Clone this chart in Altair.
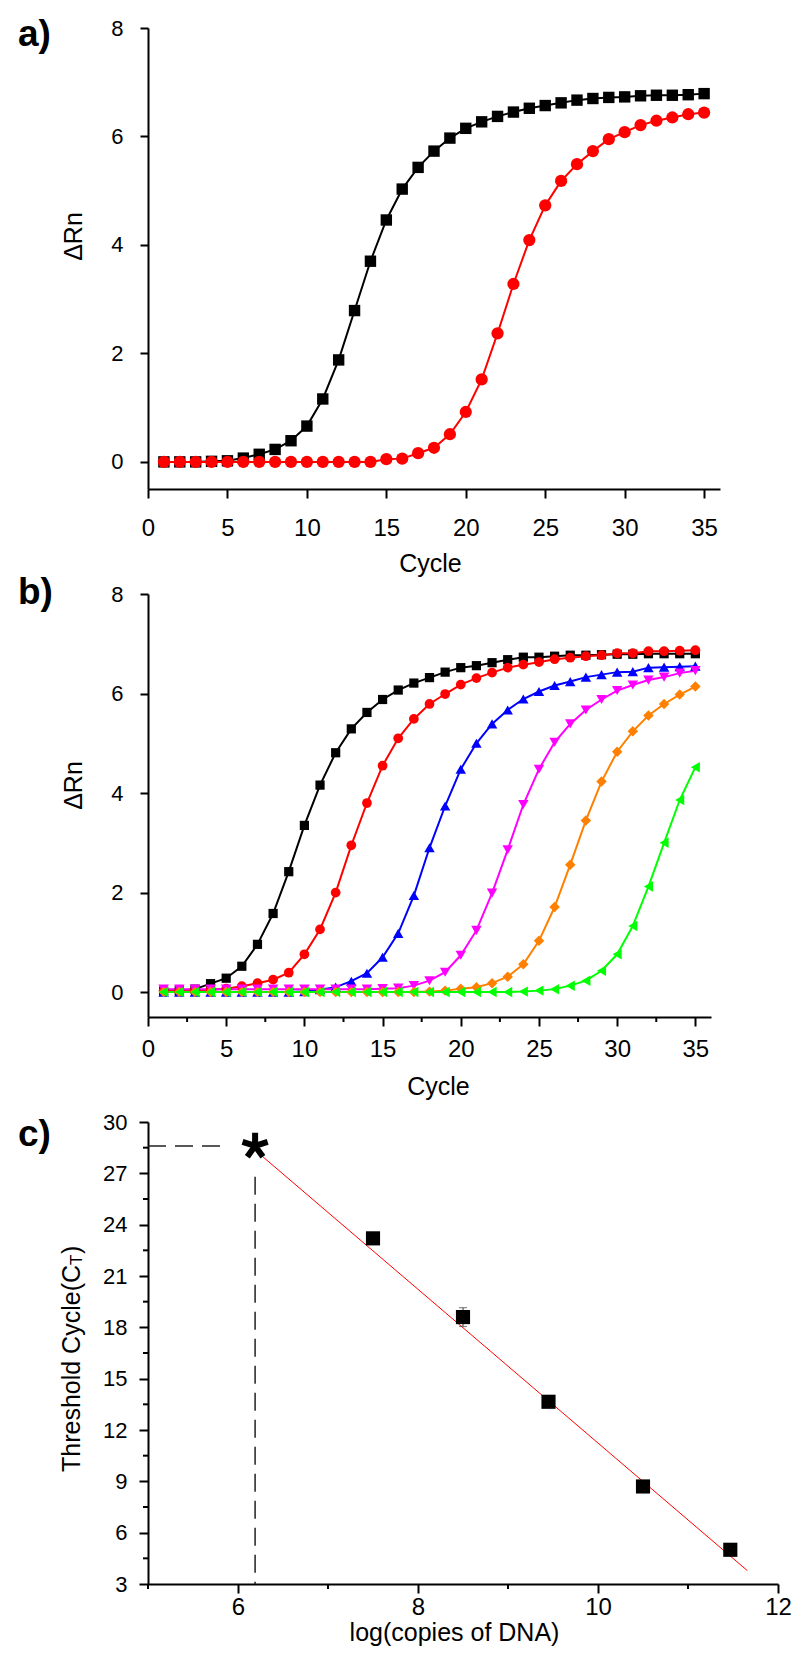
import altair as alt
import pandas as pd

FONT = "Liberation Sans"

# ---------------- data ----------------
cycles = list(range(1, 36))

# panel a
a_black = [0.0, 0.0, 0.0, 0.01, 0.02, 0.07, 0.14, 0.23, 0.39, 0.66,
           1.16, 1.88, 2.79, 3.70, 4.46, 5.03, 5.43, 5.73, 5.97, 6.15,
           6.27, 6.37, 6.45, 6.52, 6.57, 6.62, 6.67, 6.70, 6.72, 6.73,
           6.75, 6.76, 6.76, 6.77, 6.79]
a_red = [0.0, 0.0, 0.0, 0.0, 0.0, 0.0, 0.0, 0.0, 0.0, 0.0,
         0.0, 0.0, 0.0, 0.0, 0.05, 0.06, 0.16, 0.26, 0.51, 0.92,
         1.52, 2.37, 3.28, 4.09, 4.73, 5.18, 5.49, 5.73, 5.95, 6.08,
         6.21, 6.29, 6.35, 6.41, 6.44]

# panel b
b_black = [0.02, 0.03, 0.06, 0.17, 0.28, 0.52, 0.96, 1.58, 2.42, 3.35,
           4.16, 4.81, 5.29, 5.62, 5.88, 6.07, 6.21, 6.32, 6.43, 6.52,
           6.56, 6.62, 6.68, 6.73, 6.73, 6.75, 6.77, 6.77, 6.78, 6.79,
           6.79, 6.80, 6.80, 6.80, 6.80]
b_red = [0.03, 0.03, 0.04, 0.05, 0.07, 0.12, 0.18, 0.25, 0.39, 0.76,
         1.26, 2.00, 2.95, 3.80, 4.55, 5.10, 5.49, 5.79, 5.99, 6.18,
         6.31, 6.42, 6.52, 6.58, 6.63, 6.69, 6.72, 6.75, 6.77, 6.81,
         6.81, 6.85, 6.85, 6.86, 6.87]
b_blue = [0.0, 0.0, 0.0, 0.0, 0.0, 0.0, 0.0, 0.0, 0.0, 0.01,
          0.05, 0.10, 0.22, 0.38, 0.70, 1.18, 1.94, 2.90, 3.74, 4.48,
          5.00, 5.39, 5.67, 5.89, 6.04, 6.16, 6.24, 6.33, 6.38, 6.43,
          6.44, 6.52, 6.53, 6.54, 6.55]
b_magenta = [0.06, 0.06, 0.06, 0.06, 0.06, 0.06, 0.06, 0.06, 0.06, 0.06,
             0.06, 0.06, 0.06, 0.06, 0.07, 0.08, 0.13, 0.23, 0.40, 0.74,
             1.24, 1.99, 2.86, 3.77, 4.48, 5.02, 5.39, 5.67, 5.88, 6.06,
             6.17, 6.27, 6.33, 6.41, 6.46]
b_orange = [0.0, 0.0, 0.0, 0.0, 0.0, 0.0, 0.0, 0.0, 0.0, 0.0,
            0.0, 0.0, 0.0, 0.0, 0.0, 0.0, 0.0, 0.01, 0.03, 0.07,
            0.10, 0.18, 0.31, 0.56, 1.03, 1.71, 2.56, 3.45, 4.23, 4.83,
            5.24, 5.56, 5.79, 5.98, 6.14]
b_green = [0.0, 0.0, 0.0, 0.0, 0.0, 0.0, 0.0, 0.0, 0.0, 0.0,
           0.0, 0.0, 0.0, 0.0, 0.0, 0.0, 0.0, 0.0, 0.0, 0.0,
           0.0, 0.0, 0.0, 0.01, 0.03, 0.06, 0.13, 0.23, 0.43, 0.76,
           1.33, 2.12, 3.00, 3.86, 4.52]

# panel c
c_logcopies = [7.5, 8.5, 9.45, 10.5, 11.47]
c_ct = [23.2, 18.6, 13.65, 8.7, 5.0]
c_err = [0.2, 0.55, 0.2, 0.2, 0.2]
fit_x = [6.28, 11.66]
fit_y = [27.95, 3.78]
unknown_x = [6.19]
unknown_y = [28.6]
hdash_x = [5.0, 5.89]
vdash_y = [26.8, 3.0]

# axis tick values
ab_x_ticks = [0, 5, 10, 15, 20, 25, 30, 35]
ab_y_ticks = [0, 2, 4, 6, 8]
b_x_minor = [2.5, 7.5, 12.5, 17.5, 22.5, 27.5, 32.5]
c_x_ticks = [6, 8, 10, 12]
c_x_minor = [5, 7, 9, 11]
c_y_ticks = [3, 6, 9, 12, 15, 18, 21, 24, 27, 30]
c_y_minor = [4.5, 7.5, 10.5, 13.5, 16.5, 19.5, 22.5, 25.5, 28.5]

XLAB = 24
YLAB = 22
TITLE = 25


# ---------------- helpers ----------------
def long_df(series):
    rows = []
    for name, vals in series:
        for c, v in zip(cycles, vals):
            rows.append({"series": name, "cycle": c, "drn": v})
    return pd.DataFrame(rows)


def axis_common(**kw):
    base = dict(grid=False, labelFont=FONT, titleFont=FONT, labelColor="black",
                titleColor="black", domainColor="black", tickColor="black",
                titleFontWeight="normal", labelFlush=False, labelOverlap=False,
                domainWidth=2, tickWidth=2)
    base.update(kw)
    return alt.Axis(**base)


def label_layer(text, y):
    return alt.Chart(pd.DataFrame({"t": [text]})).mark_text(
        font=FONT, fontSize=37, fontWeight="bold", align="left",
        baseline="middle", color="black"
    ).encode(x=alt.value(-130), y=alt.value(y), text="t:N")


def curve_panel(series, colors, shapes, sizes, width, height, xlab_pad,
                x_title_y, x_title_x, y_lab_pad, y_title_y, label_y,
                minor=None):
    df = long_df(series)
    names = [s[0] for s in series]
    xs = alt.Scale(domain=[0, 36], nice=False, zero=False)
    ys = alt.Scale(domain=[-0.5, 8], nice=False, zero=False)
    color = alt.Color("series:N", scale=alt.Scale(domain=names, range=colors),
                      legend=None)
    x_axis = axis_common(
        values=ab_x_ticks, title="Cycle", titleFontSize=TITLE,
        titleBaseline="alphabetic", titleAlign="center", titleY=x_title_y,
        titleX=x_title_x, labelFontSize=XLAB, labelPadding=xlab_pad, tickSize=9)
    y_axis = axis_common(
        values=ab_y_ticks, title="ΔRn", titleFontSize=TITLE, titleAngle=270,
        titleAlign="center", titleBaseline="middle", titleX=-75,
        titleY=y_title_y, labelFontSize=YLAB, labelPadding=y_lab_pad, tickSize=8)
    x_enc = alt.X("cycle:Q", scale=xs, axis=x_axis)
    y_enc = alt.Y("drn:Q", scale=ys, axis=y_axis)
    lines = alt.Chart(df).mark_line(strokeWidth=2).encode(
        x=x_enc, y=y_enc, color=color, detail="series:N")
    layers = [lines]
    for name, shp, sz in zip(names, shapes, sizes):
        sub = df[df.series == name]
        layers.append(alt.Chart(sub).mark_point(
            filled=True, opacity=1, shape=shp, size=sz, strokeWidth=0
        ).encode(x=x_enc, y=y_enc, color=color))
    if minor is not None:
        layers.append(alt.Chart(pd.DataFrame({"cycle": minor})).mark_rule(
            color="black", strokeWidth=2
        ).encode(x=x_enc, y=alt.value(height), y2=alt.value(height + 5)))
    layers.append(label_layer(*label_y))
    return alt.layer(*layers).properties(width=width, height=height)


panel_a = curve_panel(
    [("A1", a_black), ("A2", a_red)],
    ["#000000", "#FF0000"], ["square", "circle"], [130, 150],
    width=572, height=461, xlab_pad=18, x_title_y=82, x_title_x=282,
    y_lab_pad=17, y_title_y=208, label_y=("a)", 7))

panel_b = curve_panel(
    [("B1", b_black), ("B2", b_red), ("B3", b_blue), ("B4", b_magenta),
     ("B5", b_orange), ("B6", b_green)],
    ["#000000", "#FF0000", "#0000FF", "#FF00FF", "#FF8000", "#00FF00"],
    ["square", "circle", "triangle-up", "triangle-down", "diamond",
     "triangle-left"],
    [85, 95, 110, 110, 110, 110],
    width=563, height=423, xlab_pad=11, x_title_y=77, x_title_x=290,
    y_lab_pad=17, y_title_y=191, label_y=("b)", -1), minor=b_x_minor)

# ---------------- panel c ----------------
cxs = alt.Scale(domain=[5, 12], nice=False, zero=False)
cys = alt.Scale(domain=[3, 30], nice=False, zero=False)
C_W, C_H = 630, 462

pts = pd.DataFrame({"x": c_logcopies, "y": c_ct, "err": c_err})
pts["lo"] = pts.y - pts.err
pts["hi"] = pts.y + pts.err

cx_axis = axis_common(
    values=c_x_ticks, title="log(copies of DNA)", titleFontSize=TITLE,
    titleBaseline="alphabetic", titleAlign="center", titleY=56, titleX=306,
    labelFontSize=XLAB, labelPadding=2, tickSize=9)
cy_axis = axis_common(
    values=c_y_ticks, title="", labelFontSize=YLAB, labelPadding=12,
    tickSize=9)
cx_enc = alt.X("x:Q", scale=cxs, axis=cx_axis)
cy_enc = alt.Y("y:Q", scale=cys, axis=cy_axis)

fit = alt.Chart(pd.DataFrame({"x": fit_x, "y": fit_y})).mark_line(
    color="#FF0000", strokeWidth=1).encode(x=cx_enc, y=cy_enc)

dash_df = pd.DataFrame({
    "seg": ["h", "h", "v", "v"],
    "x": hdash_x + unknown_x * 2,
    "y": unknown_y * 2 + vdash_y,
})
dashes = alt.Chart(dash_df).mark_line(
    color="#222222", strokeWidth=1.5, strokeDash=[18, 9]
).encode(x=cx_enc, y=cy_enc, detail="seg:N")

err_rule = alt.Chart(pts).mark_rule(color="#555555", strokeWidth=1.2).encode(
    x=cx_enc, y=alt.Y("lo:Q", scale=cys, axis=cy_axis), y2="hi:Q")
cap_lo = alt.Chart(pts).mark_tick(color="#555555", orient="horizontal",
                                  size=8, thickness=1.2).encode(
    x=cx_enc, y=alt.Y("lo:Q", scale=cys, axis=cy_axis))
cap_hi = alt.Chart(pts).mark_tick(color="#555555", orient="horizontal",
                                  size=8, thickness=1.2).encode(
    x=cx_enc, y=alt.Y("hi:Q", scale=cys, axis=cy_axis))
squares = alt.Chart(pts).mark_point(
    shape="square", filled=True, color="black", opacity=1, size=200,
    strokeWidth=0).encode(x=cx_enc, y=cy_enc)

STAR = ("M0,0L0,-1M0,0L0.95,-0.31M0,0L-0.95,-0.31"
        "M0,0L0.59,0.81M0,0L-0.59,0.81")
star = alt.Chart(pd.DataFrame({"x": unknown_x, "y": unknown_y})).mark_point(
    shape=STAR, filled=False, color="black", strokeWidth=6, size=700,
    opacity=1).encode(x=cx_enc, y=cy_enc)

minor_x = alt.Chart(pd.DataFrame({"x": c_x_minor})).mark_rule(
    color="black", strokeWidth=2).encode(
    x=cx_enc, y=alt.value(C_H), y2=alt.value(C_H + 5))
minor_y = alt.Chart(pd.DataFrame({"y": c_y_minor})).mark_rule(
    color="black", strokeWidth=2).encode(
    y=cy_enc, x=alt.value(0), x2=alt.value(-5))

title_parts = alt.layer(
    alt.Chart(pd.DataFrame({"t": ["Threshold Cycle(C"]})).mark_text(
        font=FONT, fontSize=TITLE, angle=270, align="left", baseline="middle",
        color="black").encode(x=alt.value(-76), y=alt.value(350), text="t:N"),
    alt.Chart(pd.DataFrame({"t": ["T"]})).mark_text(
        font=FONT, fontSize=17, angle=270, align="left", baseline="middle",
        color="black").encode(x=alt.value(-71), y=alt.value(143), text="t:N"),
    alt.Chart(pd.DataFrame({"t": [")"]})).mark_text(
        font=FONT, fontSize=TITLE, angle=270, align="left", baseline="middle",
        color="black").encode(x=alt.value(-76), y=alt.value(132), text="t:N"),
)

panel_c = alt.layer(
    fit, dashes, err_rule, cap_lo, cap_hi, squares, star, minor_x, minor_y,
    title_parts, label_layer("c)", 13)
).properties(width=C_W, height=C_H)

chart = alt.vconcat(panel_a, panel_b, panel_c, spacing=105, bounds="flush"
).resolve_scale(color="independent").properties(
    padding={"left": 10, "top": 8, "right": 0, "bottom": 5}
).configure(font=FONT).configure_view(stroke=None)

chart.save("out.html", embed_options={"renderer": "svg", "actions": False})
